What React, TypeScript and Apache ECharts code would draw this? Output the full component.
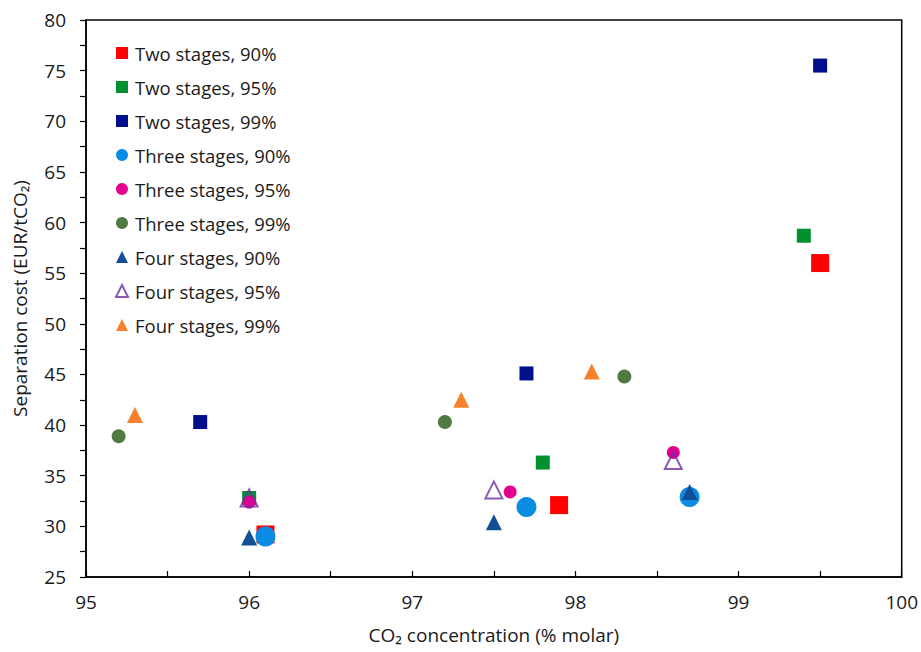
import React, { useEffect, useRef } from "react";
import * as echarts from "echarts";

// x = CO2 concentration (% molar), y = separation cost (EUR/tCO2)
const twoStages90: [number, number][] = [[96.1, 29.2], [97.9, 32.1], [99.5, 56.0]];
const twoStages95: [number, number][] = [[96.0, 32.8], [97.8, 36.3], [99.4, 58.7]];
const twoStages99: [number, number][] = [[95.7, 40.3], [97.7, 45.1], [99.5, 75.5]];
const threeStages90: [number, number][] = [[96.1, 29.0], [97.7, 31.9], [98.7, 32.9]];
const threeStages95: [number, number][] = [[96.0, 32.4], [97.6, 33.4], [98.6, 37.3]];
const threeStages99: [number, number][] = [[95.2, 38.9], [97.2, 40.3], [98.3, 44.8]];
const fourStages90: [number, number][] = [[96.0, 28.9], [97.5, 30.4], [98.7, 33.4]];
const fourStages95: [number, number][] = [[96.0, 32.8], [97.5, 33.6], [98.6, 36.5]];
const fourStages99: [number, number][] = [[95.3, 41.0], [97.3, 42.5], [98.1, 45.3]];

const seriesNames = [
  "Two stages, 90%",
  "Two stages, 95%",
  "Two stages, 99%",
  "Three stages, 90%",
  "Three stages, 95%",
  "Three stages, 99%",
  "Four stages, 90%",
  "Four stages, 95%",
  "Four stages, 99%",
];

const FONT = "'Open Sans', 'Noto Sans', sans-serif";
const TEXT = "#1a1a1a";

export default function App() {
  const ref = useRef<HTMLDivElement>(null);
  useEffect(() => {
    if (!ref.current) return;
    const chart = echarts.init(ref.current, undefined, { renderer: "svg" });
    const mk = (
      name: string,
      data: [number, number][],
      symbol: string,
      size: number,
      color: string,
      hollow = false
    ) => ({
      name,
      type: "scatter",
      data,
      symbol,
      symbolSize: size,
      itemStyle: hollow
        ? { color: "rgba(255,255,255,0)", borderColor: color, borderWidth: 2 }
        : { color, opacity: 1 },
      emphasis: { disabled: true },
    });
    chart.setOption({
      animation: false,
      backgroundColor: "#ffffff",
      textStyle: { fontFamily: FONT },
      grid: { left: 86, right: 18, top: 20, bottom: 75, show: true, borderColor: "#000", borderWidth: 1.5 },
      legend: {
        orient: "vertical",
        left: 110,
        top: 36,
        itemWidth: 12,
        itemHeight: 12,
        itemGap: 10,
        data: seriesNames.map((n, i) =>
          i === 7
            ? { name: n, itemStyle: { color: "#fff", borderColor: "#7030A0", borderWidth: 2 } }
            : { name: n }
        ),
        textStyle: { fontFamily: FONT, fontSize: 18.5, color: TEXT, lineHeight: 24, padding: [0, 0, 0, 2] },
      },
      xAxis: {
        type: "value",
        min: 95,
        max: 100,
        interval: 1,
        name: "CO\u2082 concentration (% molar)",
        nameLocation: "middle",
        nameGap: 48,
        nameTextStyle: { fontFamily: FONT, fontSize: 19, color: TEXT },
        axisLine: { show: true, lineStyle: { color: "#000", width: 1.5 } },
        axisTick: { show: true, inside: true, length: 6, lineStyle: { color: "#000", width: 1.2 } },
        minorTick: { show: true, splitNumber: 2, length: 6, lineStyle: { color: "#000", width: 1.2 } },
        splitLine: { show: false },
        axisLabel: { fontFamily: FONT, fontSize: 19, color: TEXT, margin: 15 },
      },
      yAxis: {
        type: "value",
        min: 25,
        max: 80,
        interval: 5,
        name: "Separation cost (EUR/tCO\u2082)",
        nameLocation: "middle",
        nameGap: 57,
        nameTextStyle: { fontFamily: FONT, fontSize: 19, color: TEXT },
        axisLine: { show: true, lineStyle: { color: "#000", width: 1.5 } },
        axisTick: { show: true, inside: false, length: 6, lineStyle: { color: "#000", width: 1.2 } },
        minorTick: { show: true, splitNumber: 2, length: 6, lineStyle: { color: "#000", width: 1.2 } },
        splitLine: { show: false },
        axisLabel: { fontFamily: FONT, fontSize: 19, color: TEXT, margin: 20 },
      },
      series: [
        mk(seriesNames[0], twoStages90, "rect", 18, "#FF0000"),
        mk(seriesNames[1], twoStages95, "rect", 14, "#00902E"),
        mk(seriesNames[2], twoStages99, "rect", 14, "#00108C"),
        mk(seriesNames[3], threeStages90, "circle", 20, "#0A8BE4"),
        mk(seriesNames[4], threeStages95, "circle", 13, "#E2008E"),
        mk(seriesNames[5], threeStages99, "circle", 14, "#507A42"),
        mk(seriesNames[6], fourStages90, "triangle", 16, "#124F96"),
        mk(seriesNames[7], fourStages95, "triangle", 17, "#7030A0", true),
        mk(seriesNames[8], fourStages99, "triangle", 16, "#F8802A"),
      ],
    });
    return () => chart.dispose();
  }, []);
  return <div ref={ref} style={{ width: 921, height: 652, position: "absolute", left: 0, top: 0 }} />;
}
